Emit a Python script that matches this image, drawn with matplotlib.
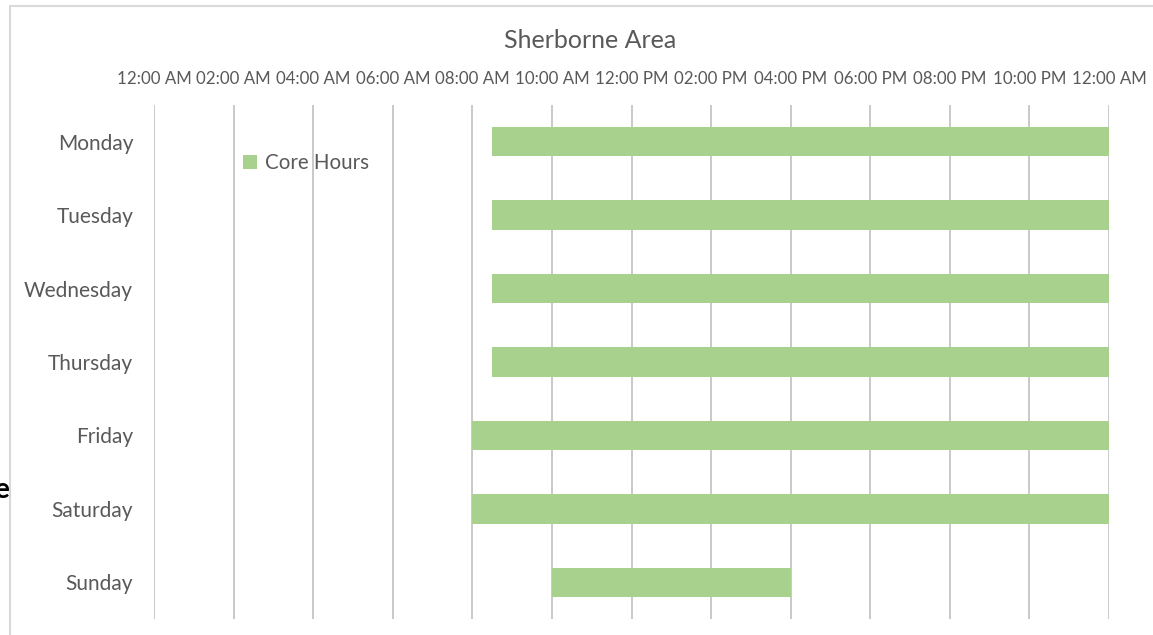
import matplotlib
matplotlib.use("Agg")
import matplotlib.pyplot as plt
from matplotlib.patches import Rectangle

days = ["Monday", "Tuesday", "Wednesday", "Thursday", "Friday", "Saturday", "Sunday"]
start_hours = [8.5, 8.5, 8.5, 8.5, 8.0, 8.0, 10.0]
end_hours = [24.0, 24.0, 24.0, 24.0, 24.0, 24.0, 16.0]
tick_hours = [0, 2, 4, 6, 8, 10, 12, 14, 16, 18, 20, 22, 24]
tick_labels = ["12:00 AM", "02:00 AM", "04:00 AM", "06:00 AM", "08:00 AM", "10:00 AM",
               "12:00 PM", "02:00 PM", "04:00 PM", "06:00 PM", "08:00 PM", "10:00 PM", "12:00 AM"]
series_name = "Core Hours"
title = "Sherborne Area"

FONT = ["Lato", "DejaVu Sans"]
plt.rcParams["font.family"] = FONT
TXT = "#595959"
GREEN = "#A9D18E"

fig = plt.figure(figsize=(11.53, 6.35), dpi=100)
W, H = 1153, 635
ax = fig.add_axes([154 / W, 1 - 619 / H, (1109 - 154) / W, (619 - 105) / H])

widths = [e - s for s, e in zip(start_hours, end_hours)]
ax.barh(range(len(days)), widths, left=start_hours, height=0.4, color=GREEN,
        label=series_name, zorder=3)

ax.set_xlim(0, 24)
ax.set_ylim(len(days) - 0.5, -0.5)
ax.set_xticks(tick_hours)
ax.set_xticklabels(tick_labels)
ax.set_yticks(range(len(days)))
ax.set_yticklabels(days)
ax.xaxis.tick_top()
ax.tick_params(axis="x", length=0, pad=13, labelsize=12.2, labelcolor=TXT)
ax.tick_params(axis="y", length=0, pad=15, labelsize=15, labelcolor=TXT)
ax.grid(axis="x", color="#C0C0C0", lw=1.2, zorder=0)
ax.grid(axis="y", visible=False)
for sp in ax.spines.values():
    sp.set_visible(False)

fig.text(590 / W, 1 - 40 / H, title, ha="center", va="center", fontsize=18, color=TXT)

fig.legend(loc="center left", bbox_to_anchor=(243 / W, 1 - 163 / H), frameon=False,
           fontsize=14.8, labelcolor=TXT, handlelength=0.7, handleheight=0.7,
           handletextpad=0.35, borderpad=0, borderaxespad=0)

# outer chart frame
fig.add_artist(Rectangle((10 / W, -0.01), 1.0, 1 - 6 / H + 0.01, transform=fig.transFigure,
                         fill=False, edgecolor="#D9D9D9", lw=1.5))
fig.text(9 / W, 1 - 490 / H, "e", ha="right", va="center", fontsize=20,
         fontweight="bold", color="black")

fig.savefig("out.png", dpi=100)
